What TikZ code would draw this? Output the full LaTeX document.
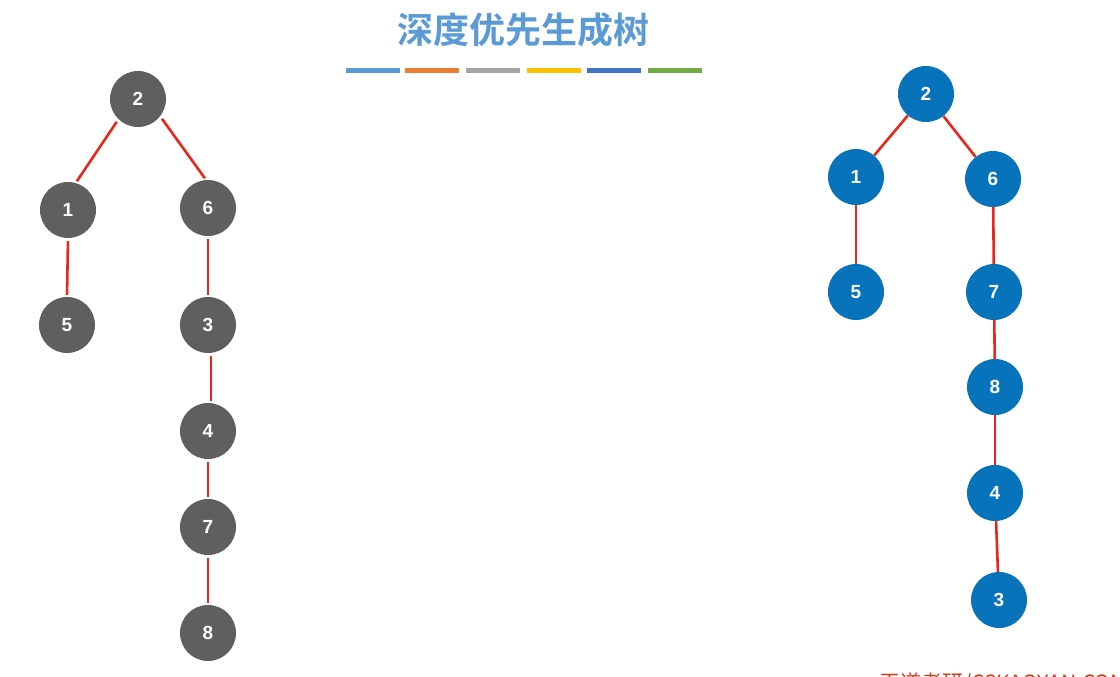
\documentclass[tikz,border=0pt]{standalone}
\usepackage{fontspec}
\setmainfont{Liberation Sans}
\newfontfamily\cjk{Noto Sans CJK SC}
\newfontfamily\cjkb{Noto Sans CJK SC Bold}
\definecolor{titleblue}{HTML}{5B9BD5}
\definecolor{nodegray}{HTML}{5F5F5F}
\definecolor{nodeblue}{HTML}{0773BB}
\definecolor{edgered}{HTML}{E8261B}
\definecolor{barA}{HTML}{5B9BD5}
\definecolor{barB}{HTML}{ED7D31}
\definecolor{barC}{HTML}{A5A5A5}
\definecolor{barD}{HTML}{FFC000}
\definecolor{barE}{HTML}{4472C4}
\definecolor{barF}{HTML}{70AD47}
\definecolor{wmred}{HTML}{C8401E}
\begin{document}
\begin{tikzpicture}[x=1pt,y=-1pt,
  gnode/.style={circle,fill=nodegray,minimum size=56pt,inner sep=0pt,text=white,font=\fontsize{19}{19}\selectfont\bfseries},
  bnode/.style={circle,fill=nodeblue,minimum size=56pt,inner sep=0pt,text=white,font=\fontsize{19}{19}\selectfont\bfseries},
  gedge/.style={draw=edgered,line width=2.6pt,shorten <=3pt,shorten >=2pt},
  bedge/.style={draw=edgered,line width=2.6pt},
  bar/.style={minimum width=54pt,minimum height=5pt,inner sep=0pt}]
\useasboundingbox (0,0) rectangle (1120,677);
\clip (0,0) rectangle (1120,677);
% title
\node[font=\cjkb\fontsize{36}{36}\selectfont,text=titleblue] (title) at (523,30) {深度优先生成树};
\node[bar,fill=barA] (b1) at (373,70.5) {};
\node[bar,fill=barB] (b2) at (432,70.5) {};
\node[bar,fill=barC] (b3) at (493,70.5) {};
\node[bar,fill=barD] (b4) at (554,70.5) {};
\node[bar,fill=barE] (b5) at (613.5,70.5) {};
\node[bar,fill=barF] (b6) at (675,70.5) {};
% left tree
\node[gnode] (L2) at (138,99) {2};
\node[gnode] (L1) at (68,210) {1};
\node[gnode] (L6) at (208,208) {6};
\node[gnode] (L5) at (67,325) {5};
\node[gnode] (L3) at (208,325) {3};
\node[gnode] (L4) at (208,431) {4};
\node[gnode] (L7) at (208,527) {7};
\node[gnode] (L8) at (208,633) {8};
\draw[gedge] (L2.226) -- (L1.74);
\draw[gedge] (L2.322) -- (L6.94);
\draw[gedge] (L1.270) -- (L5.90);
\draw[gedge] (L6.270) -- (L3.90);
\draw[gedge] (L3.-84) -- (L4.84);
\draw[gedge] (L4.270) -- (L7.90);
\draw[gedge] (L7.270) -- (L8.90);
% right tree
\node[bnode] (R2) at (926,94) {2};
\node[bnode] (R1) at (856,177) {1};
\node[bnode] (R6) at (993,179) {6};
\node[bnode] (R5) at (856,292) {5};
\node[bnode] (R7) at (994,292) {7};
\node[bnode] (R8) at (995,387) {8};
\node[bnode] (R4) at (995,493) {4};
\node[bnode] (R3) at (999,600) {3};
\draw[bedge] (R2) -- (R1);
\draw[bedge] (R2) -- (R6);
\draw[bedge] (R1) -- (R5);
\draw[bedge] (R6) -- (R7);
\draw[bedge] (R7) -- (R8);
\draw[bedge] (R8) -- (R4);
\draw[bedge] (R4) -- (R3);
% watermark
\node[anchor=west,font=\cjk\fontsize{21}{21}\selectfont,text=wmred,inner sep=0pt] (wm) at (879,684) {王道考研/CSKAOYAN.COM};
\end{tikzpicture}
\end{document}
